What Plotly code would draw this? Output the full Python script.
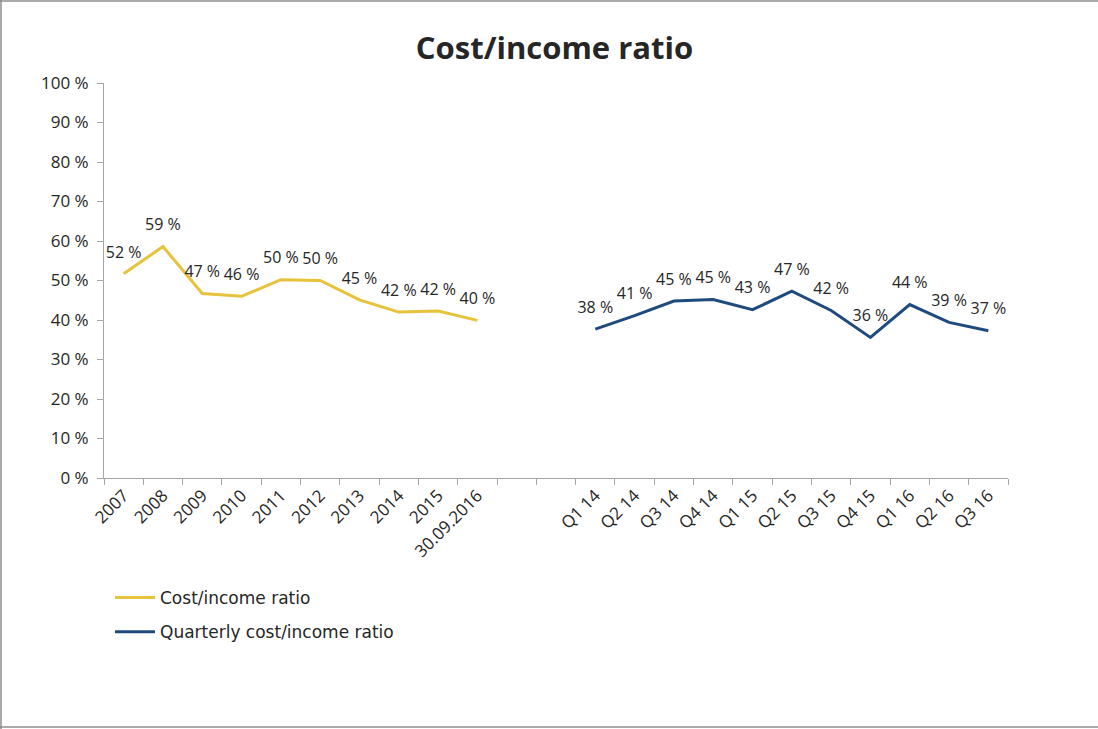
import plotly.graph_objects as go

annual_labels = ["2007", "2008", "2009", "2010", "2011", "2012", "2013", "2014", "2015", "30.09.2016"]
annual_values = [51.7, 58.6, 46.7, 46.0, 50.2, 50.0, 45.1, 42.0, 42.3, 39.9]

quarter_labels = ["Q1 14", "Q2 14", "Q3 14", "Q4 14", "Q1 15", "Q2 15", "Q3 15", "Q4 15", "Q1 16", "Q2 16", "Q3 16"]
quarter_values = [37.7, 41.1, 44.8, 45.2, 42.6, 47.3, 42.4, 35.6, 43.9, 39.4, 37.3]

gap_labels = [" ", "  "]
y_ticks = [0, 10, 20, 30, 40, 50, 60, 70, 80, 90, 100]
y_tick_text = [f"{v} %" for v in y_ticks]

categories = annual_labels + gap_labels + quarter_labels

YELLOW = "#E6C33A"
BLUE = "#1F4A7E"
TXT = "#262626"

fig = go.Figure()
for labels, values, name, color in [
    (annual_labels, annual_values, "Cost/income ratio", YELLOW),
    (quarter_labels, quarter_values, "Quarterly cost/income ratio", BLUE),
]:
    fig.add_trace(go.Scatter(
        x=labels, y=values, mode="lines", name=name, legendgroup=name,
        line=dict(color=color, width=3),
    ))
    fig.add_trace(go.Scatter(
        x=labels, y=values, mode="markers+text", name=name, legendgroup=name, showlegend=False,
        marker=dict(size=18, opacity=0, color=color),
        texttemplate="%{y:.0f} %", textposition="top center",
        textfont=dict(family="Open Sans", size=16, color=TXT),
        cliponaxis=False, hoverinfo="skip",
    ))

L, R, T, B = 104, 90, 83, 251
W, H = 1098, 729
pw, ph = W - L - R, H - T - B

def px_x(x):
    return (x - L) / pw

def px_y(y):
    return (H - B - y) / ph

border = dict(color="#8C8C8C", width=1.5)

fig.update_layout(
    width=W, height=H,
    margin=dict(l=L, r=R, t=T, b=B, pad=0),
    paper_bgcolor="white", plot_bgcolor="white",
    title=dict(text="<b>Cost/income ratio</b>", x=0.505, xanchor="center", y=1 - 48 / H, yanchor="middle",
               font=dict(family="Open Sans", size=31, color=TXT)),
    showlegend=True,
    legend=dict(orientation="v", x=px_x(110), xanchor="left", y=px_y(580), yanchor="top",
                font=dict(family="DejaVu Sans", size=17, color=TXT), tracegroupgap=9,
                bgcolor="rgba(0,0,0,0)", itemwidth=40),
    xaxis=dict(type="category", categoryorder="array", categoryarray=categories,
               range=[-0.5, len(categories) - 0.5],
               showline=True, linecolor="#A6A6A6", linewidth=1,
               ticks="outside", tickson="boundaries", ticklen=6, tickcolor="#A6A6A6",
               tickangle=-45, showgrid=False, zeroline=False,
               tickfont=dict(family="Open Sans", size=17, color=TXT)),
    yaxis=dict(range=[0, 100], tickvals=y_ticks, ticktext=y_tick_text,
               showline=True, linecolor="#A6A6A6", linewidth=1,
               ticks="outside", ticklen=6, tickcolor="#A6A6A6", ticklabelstandoff=5,
               showgrid=False, zeroline=False,
               tickfont=dict(family="Open Sans", size=17, color=TXT)),
    shapes=[
        dict(type="line", xref="paper", yref="paper", x0=px_x(0), x1=px_x(W), y0=px_y(1), y1=px_y(1), line=border),
        dict(type="line", xref="paper", yref="paper", x0=px_x(1), x1=px_x(1), y0=px_y(0), y1=px_y(H), line=border),
        dict(type="line", xref="paper", yref="paper", x0=px_x(0), x1=px_x(W), y0=px_y(H - 2), y1=px_y(H - 2), line=border),
    ],
)

fig.write_html("out.html", config={"displayModeBar": False},
               post_script="document.body.style.margin='0px';document.body.style.overflow='hidden';")
